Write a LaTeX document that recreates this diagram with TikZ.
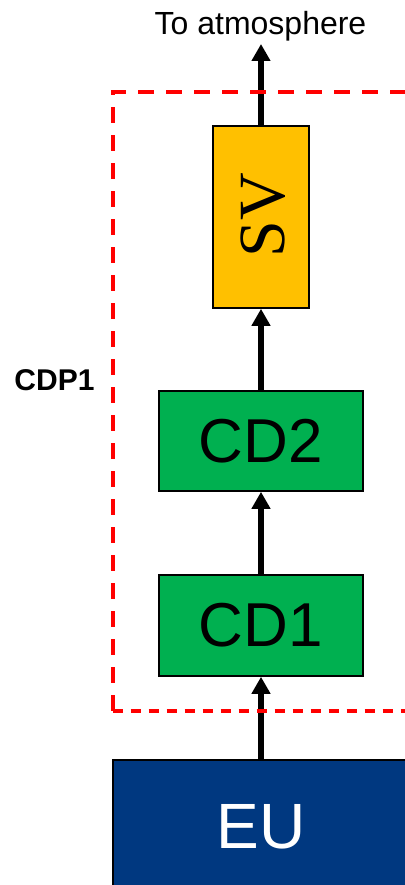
\documentclass[tikz,border=0pt]{standalone}
\usepackage{fontspec}
\setmainfont{Liberation Sans}
\newfontfamily\svfont{Liberation Serif}
\usetikzlibrary{arrows.meta}
\definecolor{svyellow}{RGB}{255,192,0}
\definecolor{cdgreen}{RGB}{0,176,80}
\definecolor{eublue}{RGB}{0,56,128}
\begin{document}
\begin{tikzpicture}[x=1pt,y=-1pt,
  box/.style={draw=black,line width=1.6pt,inner sep=0pt,anchor=center},
  flow/.style={line width=5.5pt,-{Triangle[width=18pt,length=17pt]}},
  bigtext/.style={font=\fontsize{62}{62}\selectfont}
]
\useasboundingbox (0,0) rectangle (404,885);
\node[box,fill=svyellow,minimum width=96pt,minimum height=182pt] (sv) at (261,217) {};
\node[rotate=90,font=\svfont\fontsize{66}{66}\selectfont] (svt) at (263,215) {SV};
\node[box,fill=cdgreen,minimum width=204pt,minimum height=100pt,bigtext] (cd2) at (261,441) {CD2};
\node[box,fill=cdgreen,minimum width=204pt,minimum height=101pt,bigtext] (cd1) at (261,625.5) {CD1};
\node[box,fill=eublue,minimum width=296pt,minimum height=150pt] (eu) at (261,835) {};
\node[text=white,font=\fontsize{64}{64}\selectfont,anchor=base] (eut) at (261,848) {EU};
\node[anchor=base,font=\fontsize{32}{32}\selectfont,inner sep=0pt] (atm) at (260.5,35) {To atmosphere};
\node[anchor=center,font=\bfseries\fontsize{30}{30}\selectfont,inner sep=0pt] (cdp) at (54.5,380) {CDP1};
\coordinate (top) at (261,44);
\draw[flow] (sv.north) -- (top);
\draw[flow] (cd2.north) -- (sv.south);
\draw[flow] (cd1.north) -- (cd2.south);
\draw[flow] (eu.north) -- (cd1.south);
\draw[red,line width=3.6pt,dash pattern=on 16pt off 12pt] (112.7,710.7) -- (112.7,92) -- (420,92);
\draw[red,line width=3.6pt,dash pattern=on 10pt off 8pt] (112.7,710.7) -- (420,710.7);
\end{tikzpicture}
\end{document}
